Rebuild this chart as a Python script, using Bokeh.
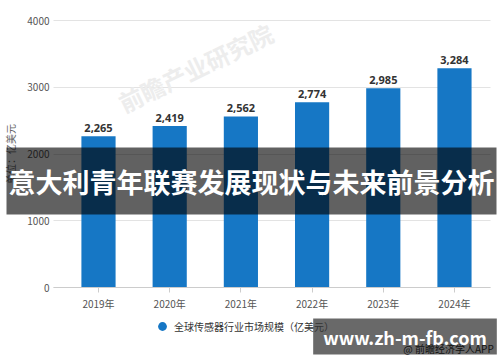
from bokeh.plotting import figure
from bokeh.models import Range1d, FixedTicker, ColumnDataSource, Label, Legend, LegendItem
from bokeh.core.properties import value
from bokeh.embed import file_html
from bokeh.resources import INLINE

# ---- data ----
years = ["2019年", "2020年", "2021年", "2022年", "2023年", "2024年"]
market_size = [2265, 2419, 2562, 2774, 2985, 3284]
y_ticks = [0, 1000, 2000, 3000, 4000]
series_name = "全球传感器行业市场规模（亿美元）"
y_title = "单位：亿美元"
overlay_title = "意大利青年联赛发展现状与未来前景分析"
site_mark = "www.zh-m-fb.com"
source_mark = "@ 前瞻经济学人APP"
bg_mark = "前瞻产业研究院"

BAR = "#1677c5"
CJK = "Noto Sans CJK SC"
W, H = 500, 362

# plot area (pixels) and its data extent
PL, PR, PT, PB = 53, 490, 20, 287
X_LO, X_HI = -0.632, 5.506
Y_LO, Y_HI = 0, 4000
sx = (PR - PL) / (X_HI - X_LO)
sy = (PB - PT) / (Y_HI - Y_LO)

idx = list(range(len(years)))
src = ColumnDataSource(dict(x=idx, top=market_size,
                            lbl=[f"{v:,}" for v in market_size]))

p = figure(width=W, height=H, output_backend="svg", toolbar_location=None,
           x_range=Range1d(X_LO - PL / sx, X_HI + (W - PR) / sx),
           y_range=Range1d(Y_LO - (H - PB) / sy, Y_HI + PT / sy),
           min_border_left=0, min_border_right=0, min_border_top=0,
           min_border_bottom=0)
p.outline_line_color = None
p.background_fill_color = "white"
p.border_fill_color = "white"

xt = FixedTicker(ticks=idx)
yt = FixedTicker(ticks=y_ticks)

# x axis
xa = p.xaxis[0]
xa.fixed_location = Y_LO
xa.bounds = (X_LO, X_HI)
xa.ticker = xt
xa.major_label_overrides = {i: y for i, y in zip(idx, years)}
xa.axis_line_color = "#cccccc"
xa.major_tick_line_color = "#cccccc"
xa.major_tick_out = 5
xa.major_tick_in = 0
xa.minor_tick_line_color = None
xa.major_label_standoff = 3
xa.major_label_text_font_size = "10px"
xa.major_label_text_color = "#555555"
xa.major_label_text_font = CJK

# y axis
ya = p.yaxis[0]
ya.fixed_location = X_LO
ya.bounds = (Y_LO, Y_HI)
ya.ticker = yt
ya.axis_line_color = None
ya.major_tick_line_color = None
ya.minor_tick_line_color = None
ya.major_tick_out = 0
ya.major_tick_in = 0
ya.major_label_standoff = 4
ya.major_label_text_font_size = "10px"
ya.major_label_text_color = "#555555"
ya.major_label_text_font = CJK
ya.axis_label = y_title
ya.axis_label_text_font = CJK
ya.axis_label_text_font_size = "10px"
ya.axis_label_text_font_style = "normal"
ya.axis_label_text_color = "#666666"
ya.axis_label_standoff = 6

p.xgrid.grid_line_color = None
yg = p.ygrid[0]
yg.ticker = yt
yg.grid_line_color = "#e3e3e3"
if "cross_bounds" in yg.properties():
    yg.cross_bounds = (X_LO, X_HI)

# faint background watermark
p.add_layout(Label(x=195, y=H - 67, x_units="screen", y_units="screen", text=bg_mark,
                   angle=0.45, text_align="center", text_baseline="middle",
                   text_font=CJK, text_font_style="bold", text_font_size="24px",
                   text_color="#ededed", level="underlay"))

p.vbar(x="x", top="top", width=0.48, source=src, fill_color=BAR, line_color=None)
p.text(x="x", y="top", text="lbl", source=src, text_align="center",
       text_baseline="bottom", y_offset=-4, text_font=value("Noto Sans"),
       text_font_style="bold", text_font_size="11px", text_color="#333333")

# legend-only marker (not drawn in the plot: NaN position)
nan = float("nan")
leg_r = p.scatter(x=[nan], y=[nan], marker="circle", size=8, fill_color=BAR,
                  line_color=None)
legend = Legend(items=[LegendItem(label=series_name, renderers=[leg_r])],
                location=(151, H - 337), orientation="horizontal",
                border_line_color=None, background_fill_alpha=0,
                padding=0, margin=0, spacing=0, glyph_width=22, glyph_height=22,
                label_standoff=1, label_text_font_size="10px", label_text_font=CJK,
                label_text_color="#333333")
p.add_layout(legend, "center")

p.add_layout(Label(x=448, y=H - 348, x_units="screen", y_units="screen", text=source_mark,
                   text_align="center", text_baseline="middle", text_font=CJK,
                   text_font_size="10px", text_color="#333333"))

p.add_layout(Label(x=251, y=H - 180.5, x_units="screen", y_units="screen", text=overlay_title,
                   text_align="center", text_baseline="middle", text_font=CJK,
                   text_font_style="bold", text_font_size="27px", text_color="white",
                   background_fill_color="black", background_fill_alpha=0.62,
                   padding=dict(left=2, right=2, top=14, bottom=14)))

p.add_layout(Label(x=404.5, y=H - 336, x_units="screen", y_units="screen", text=site_mark,
                   text_align="center", text_baseline="middle", text_font=CJK,
                   text_font_style="bold", text_font_size="18px", text_color="white",
                   background_fill_color="black", background_fill_alpha=0.59,
                   padding=dict(left=10, right=10, top=5, bottom=5)))

open("out.html", "w").write(file_html(p, INLINE))
